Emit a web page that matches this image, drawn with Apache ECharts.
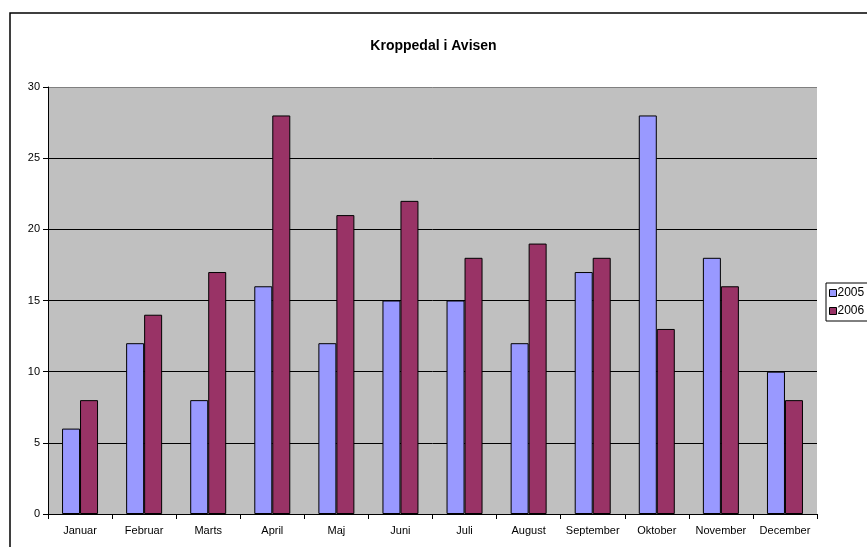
<!DOCTYPE html>
<html>
<head>
<meta charset="utf-8">
<script src="https://cdn.jsdelivr.net/npm/echarts@6/dist/echarts.min.js"></script>
<style>html,body{margin:0;padding:0;background:#fff;}#c{width:867px;height:547px;}</style>
</head>
<body>
<div id="c"></div>
<script>
const categories = ['Januar','Februar','Marts','April','Maj','Juni','Juli','August','September','Oktober','November','December'];
const series2005 = [6,12,8,16,12,15,15,12,17,28,18,10];
const series2006 = [8,14,17,28,21,22,18,19,18,13,16,8];
const seriesNames = ['2005','2006'];

const chart = echarts.init(document.getElementById('c'));
const font = 'Liberation Sans, Arial, sans-serif';
chart.setOption({
  animation: false,
  textStyle: {fontFamily: font},
  title: {
    text: 'Kroppedal i Avisen',
    left: 'center',
    top: 34,
    textStyle: {fontFamily: font, fontSize: 14, fontWeight: 'bold', color: '#000'}
  },
  graphic: [{
    type: 'rect',
    shape: {x: 10, y: 13, width: 900, height: 600},
    style: {fill: 'none', stroke: '#000', lineWidth: 1.5},
    silent: true, z: -1
  }],
  legend: {
    orient: 'vertical',
    left: 826,
    top: 283,
    icon: 'rect',
    itemWidth: 7,
    itemHeight: 7,
    itemGap: 6,
    padding: [4, 10, 4, 3],
    borderColor: '#000',
    borderWidth: 1,
    backgroundColor: '#fff',
    data: seriesNames,
    itemStyle: {borderColor: '#000', borderWidth: 1},
    textStyle: {fontFamily: font, fontSize: 12, color: '#000', padding: [0,0,0,-4]}
  },
  grid: {
    left: 48, right: 50, top: 87, bottom: 33,
    show: true, backgroundColor: '#c0c0c0', borderWidth: 0
  },
  xAxis: {
    type: 'category',
    data: categories,
    axisLine: {lineStyle: {color: '#000', width: 1}},
    axisTick: {show: true, interval: 0, length: 5, lineStyle: {color: '#000'}},
    axisLabel: {interval: 0, color: '#000', fontSize: 11, fontFamily: font, margin: 11}
  },
  yAxis: {
    type: 'value',
    min: 0, max: 30, interval: 5,
    axisLine: {show: true, lineStyle: {color: '#000', width: 1}},
    axisTick: {show: true, length: 5, lineStyle: {color: '#000'}},
    axisLabel: {color: '#000', fontSize: 11, fontFamily: font, margin: 8},
    splitLine: {show: true, lineStyle: {color: ['#000','#000','#000','#000','#000','#000','#808080'], width: 1}}
  },
  series: [
    {name: seriesNames[0], type: 'bar', data: series2005, barWidth: 18, barGap: '0%',
     itemStyle: {color: '#9999ff', borderColor: '#000', borderWidth: 1}},
    {name: seriesNames[1], type: 'bar', data: series2006, barWidth: 18, barGap: '0%',
     itemStyle: {color: '#993366', borderColor: '#000', borderWidth: 1}}
  ]
});
</script>
</body>
</html>
